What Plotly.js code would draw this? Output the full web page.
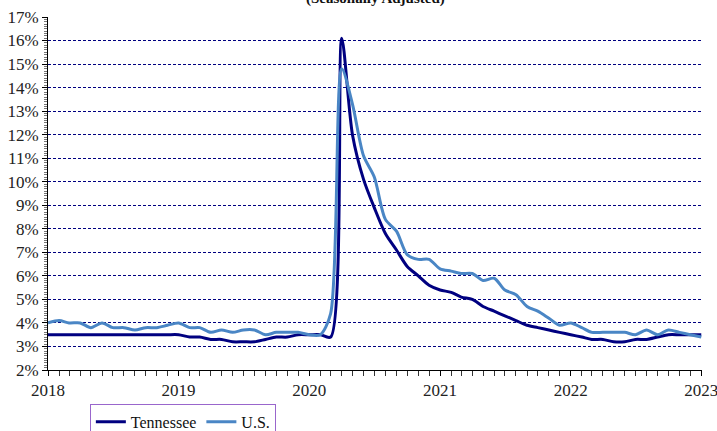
<!DOCTYPE html>
<html>
<head>
<meta charset="utf-8">
<script src="https://cdn.plot.ly/plotly-3.0.1.min.js"></script>
<style>
html,body{margin:0;padding:0;background:#fff;}
#chart{width:717px;height:431px;}
</style>
</head>
<body>
<div id="chart"></div>
<script>
const months = [
 '2018-01-01','2018-02-01','2018-03-01','2018-04-01','2018-05-01','2018-06-01','2018-07-01','2018-08-01','2018-09-01','2018-10-01','2018-11-01','2018-12-01',
 '2019-01-01','2019-02-01','2019-03-01','2019-04-01','2019-05-01','2019-06-01','2019-07-01','2019-08-01','2019-09-01','2019-10-01','2019-11-01','2019-12-01',
 '2020-01-01','2020-02-01','2020-03-01','2020-04-01','2020-05-01','2020-06-01','2020-07-01','2020-08-01','2020-09-01','2020-10-01','2020-11-01','2020-12-01',
 '2021-01-01','2021-02-01','2021-03-01','2021-04-01','2021-05-01','2021-06-01','2021-07-01','2021-08-01','2021-09-01','2021-10-01','2021-11-01','2021-12-01',
 '2022-01-01','2022-02-01','2022-03-01','2022-04-01','2022-05-01','2022-06-01','2022-07-01','2022-08-01','2022-09-01','2022-10-01','2022-11-01','2022-12-01',
 '2023-01-01'
];
const tennessee = [
 3.5,3.5,3.5,3.5,3.5,3.5,3.5,3.5,3.5,3.5,3.5,3.5,
 3.5,3.4,3.4,3.3,3.3,3.2,3.2,3.2,3.3,3.4,3.4,3.5,
 3.5,3.5,3.4,16.1,12.0,10.1,8.9,7.8,7.1,6.4,6.0,5.6,
 5.4,5.3,5.1,5.0,4.7,4.5,4.3,4.1,3.9,3.8,3.7,3.6,
 3.5,3.4,3.3,3.3,3.2,3.2,3.3,3.3,3.4,3.5,3.5,3.5,
 3.5
];
const us = [
 4.0,4.1,4.0,4.0,3.8,4.0,3.8,3.8,3.7,3.8,3.8,3.9,
 4.0,3.8,3.8,3.6,3.7,3.6,3.7,3.7,3.5,3.6,3.6,3.6,
 3.5,3.5,4.4,14.8,13.3,11.1,10.2,8.4,7.9,6.9,6.7,6.7,
 6.3,6.2,6.1,6.1,5.8,5.9,5.4,5.2,4.7,4.5,4.2,3.9,
 4.0,3.8,3.6,3.6,3.6,3.6,3.5,3.7,3.5,3.7,3.6,3.5,
 3.4
];
const yearTicks = ['2018-01-01','2019-01-01','2020-01-01','2021-01-01','2022-01-01','2023-01-01'];
const yearLabels = ['2018','2019','2020','2021','2022','2023'];
const seriesNames = ['Tennessee','U.S.'];
const titleText = '<b>(Seasonally Adjusted)</b>';

const FONT = 'Liberation Serif';

const traces = [
  {x: months, y: tennessee, name: seriesNames[0], type: 'scatter', mode: 'lines',
   line: {color: '#000080', width: 3, shape: 'spline', smoothing: 0.8}},
  {x: months, y: us, name: seriesNames[1], type: 'scatter', mode: 'lines',
   line: {color: '#4A86C5', width: 3, shape: 'spline', smoothing: 0.8}}
];

const layout = {
  width: 717, height: 431,
  margin: {l: 48, r: 15, t: 17, b: 61, pad: 0, autoexpand: false},
  paper_bgcolor: '#fff', plot_bgcolor: '#fff',
  font: {family: FONT, size: 17, color: '#222'},
  showlegend: true,
  legend: {orientation: 'h', x: 0.064, xanchor: 'left', y: -0.096, yanchor: 'top',
           bordercolor: '#9966CC', borderwidth: 1, font: {family: FONT, size: 16, color: '#111'},
           tracegroupgap: 0},
  xaxis: {type: 'date', range: ['2018-01-01', '2023-01-03'],
          tickvals: yearTicks, ticktext: yearLabels, ticklabeloverflow: 'allow',
          showgrid: false, zeroline: false,
          showline: true, linecolor: '#000', linewidth: 1,
          ticks: 'outside', ticklen: 5, tickcolor: '#000', tickwidth: 1,
          minor: {dtick: 'M1', ticks: 'outside', ticklen: 5, tickcolor: '#333', tickwidth: 1, showgrid: false},
          tickfont: {family: FONT, size: 17, color: '#222'}},
  yaxis: {range: [2, 17], dtick: 1, tick0: 2, ticksuffix: '%',
          showgrid: true, gridcolor: '#000080', gridwidth: 1, griddash: '3px,2px',
          zeroline: false, showline: true, linecolor: '#000', linewidth: 1,
          ticks: 'outside', ticklen: 5, tickcolor: '#000',
          minor: {dtick: 0.1, ticks: 'outside', ticklen: 3, tickcolor: '#777', tickwidth: 1, showgrid: false},
          tickfont: {family: FONT, size: 17, color: '#222'}},
  annotations: [{text: titleText, xref: 'paper', yref: 'paper', x: 0.5, y: 1, xanchor: 'center', yanchor: 'bottom',
                 yshift: 8, showarrow: false, font: {family: FONT, size: 15, color: '#111'}}]
};

Plotly.newPlot('chart', traces, layout, {staticPlot: true, displayModeBar: false});
</script>
</body>
</html>
